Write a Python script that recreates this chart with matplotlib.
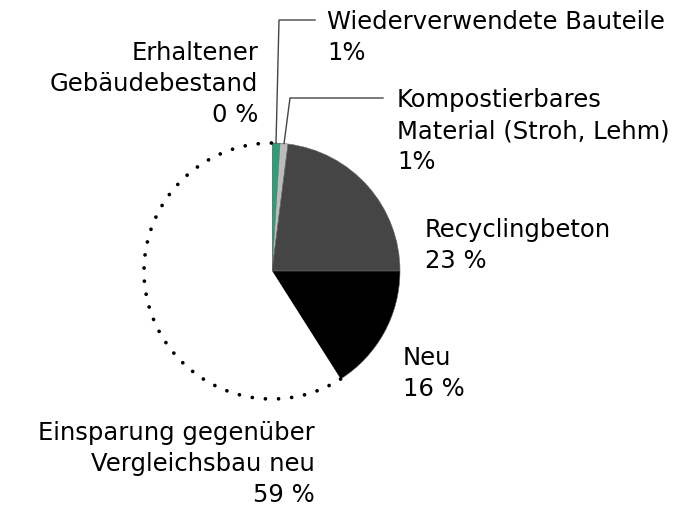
import numpy as np
import matplotlib
matplotlib.use("Agg")
import matplotlib.pyplot as plt
from matplotlib.patches import Arc

# shares in percent, clockwise from 12 o'clock
categories = [
    "Erhaltener\nGebäudebestand",
    "Wiederverwendete Bauteile",
    "Kompostierbares\nMaterial (Stroh, Lehm)",
    "Recyclingbeton",
    "Neu",
    "Einsparung gegenüber\nVergleichsbau neu",
]
shares = [0, 1, 1, 23, 16, 59]
colors = ["#2f9e78", "#2f9e78", "#bcbcbc", "#454545", "#000000", "#ffffff"]

W, H = 684, 508
cx, cy, r = 272, 271, 128
FS = 17.5
LINE = 31

fig = plt.figure(figsize=(W / 100, H / 100), dpi=100)
ax = fig.add_axes([0, 0, 1, 1])

wedges, _ = ax.pie(
    shares, colors=colors, startangle=-90, counterclock=True,
    center=(cx, cy), radius=r, frame=True,
    wedgeprops=dict(edgecolor="#6a6a6a", linewidth=0.4),
)
wedges[-1].set_linewidth(0)

# dotted outline of the saving wedge
frac = np.cumsum([0] + shares) / 100.0
a1 = -90 + frac[-2] * 360
arc = Arc((cx, cy), 2 * r, 2 * r, theta1=a1, theta2=270,
          color="#000000", linewidth=2.7, linestyle=(0, (0.01, 3.5)))
arc.set_capstyle("round")
ax.add_patch(arc)

ax.set_xlim(0, W)
ax.set_ylim(H, 0)
ax.set_aspect("equal")
ax.axis("off")


def mid_point(i, rad):
    ang = np.deg2rad(-90 + (frac[i] + frac[i + 1]) / 2 * 360)
    return cx + rad * np.cos(ang), cy + rad * np.sin(ang)


# leader lines for the two thin slices
for i, (kx, ky, ex) in [(1, (279, 20, 315)), (2, (290, 98, 383))]:
    px, py = mid_point(i, r)
    ax.plot([px, kx, ex], [py, ky, ky], color="#444444", lw=1.0,
            solid_joinstyle="miter")

pct = [f"{v}%" if v == 1 else f"{v} %" for v in shares]

# (x, first baseline, ha)
label_pos = [
    (258, 60, "right"),
    (327, 29, "left"),
    (397, 107, "left"),
    (425, 237, "left"),
    (403, 365, "left"),
    (315, 440, "right"),
]

for cat, p, (x, y0, ha) in zip(categories, pct, label_pos):
    lines = cat.split("\n") + [p]
    for k, line in enumerate(lines):
        ax.text(x, y0 + k * LINE, line, ha=ha, va="baseline",
                fontsize=FS, family="DejaVu Sans", color="#000000")

fig.savefig("out.png", dpi=100, facecolor="white")
